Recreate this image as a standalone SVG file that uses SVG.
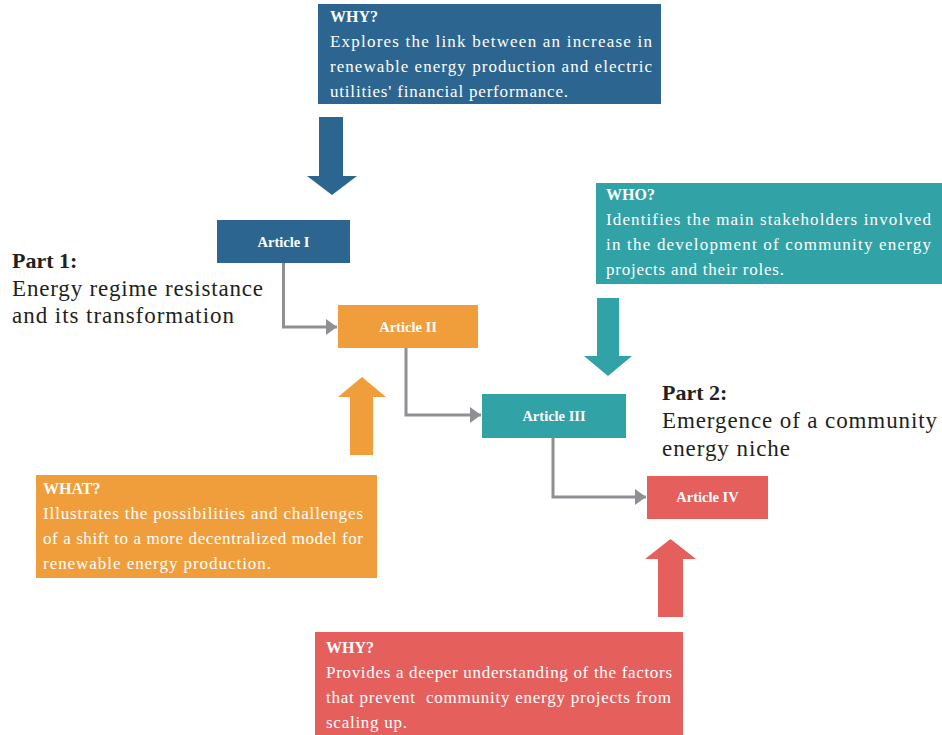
<svg xmlns="http://www.w3.org/2000/svg" width="942" height="735" viewBox="0 0 942 735">
  <defs>
    <marker id="tip" markerUnits="userSpaceOnUse" markerWidth="12" markerHeight="16" refX="11" refY="8" orient="auto">
      <path d="M0,0 L11,8 L0,16 z" fill="#8e9094"/>
    </marker>
    <style>
      .blue { fill: #2c6690; }
      .teal { fill: #31a2a5; }
      .orange { fill: #f09e3b; }
      .red { fill: #e5605d; }
      .body { font-family: "Liberation Serif", "Times New Roman", serif; font-size: 17px; fill: #ffffff; }
      .head { font-family: "Liberation Serif", "Times New Roman", serif; font-size: 16px; font-weight: bold; fill: #ffffff; }
      .art { font-family: "Liberation Serif", "Times New Roman", serif; font-size: 14.5px; font-weight: bold; fill: #ffffff; text-anchor: middle; }
      .part { font-family: "Liberation Serif", "Times New Roman", serif; font-size: 23px; fill: #231f20; }
      .partb { font-family: "Liberation Serif", "Times New Roman", serif; font-size: 22px; font-weight: bold; fill: #231f20; }
      .conn { fill: none; stroke: #8e9094; stroke-width: 3; }
    </style>
  </defs>

  <rect width="942" height="735" fill="#ffffff"/>

  <!-- question boxes -->
  <g id="why-top">
    <rect class="blue" x="318" y="4" width="343" height="100"/>
    <text class="head" x="330" y="22">WHY?</text>
    <text class="body" x="330" y="47" textLength="322">Explores the link between an increase in</text>
    <text class="body" x="330" y="72" textLength="322">renewable energy production and electric</text>
    <text class="body" x="330" y="97" textLength="238">utilities' financial performance.</text>
  </g>

  <g id="who">
    <rect class="teal" x="596" y="183" width="346" height="101"/>
    <text class="head" x="606" y="200">WHO?</text>
    <text class="body" x="606" y="225" textLength="325">Identifies the main stakeholders involved</text>
    <text class="body" x="606" y="250" textLength="325">in the development of community energy</text>
    <text class="body" x="606" y="275" textLength="178">projects and their roles.</text>
  </g>

  <g id="what">
    <rect class="orange" x="36" y="475" width="341" height="103"/>
    <text class="head" x="43" y="494">WHAT?</text>
    <text class="body" x="43" y="519" textLength="320">Illustrates the possibilities and challenges</text>
    <text class="body" x="43" y="544" textLength="320">of a shift to a more decentralized model for</text>
    <text class="body" x="43" y="569" textLength="228">renewable energy production.</text>
  </g>

  <g id="why-bottom">
    <rect class="red" x="315" y="632" width="368" height="103"/>
    <text class="head" x="326" y="653">WHY?</text>
    <text class="body" x="326" y="678" textLength="346">Provides a deeper understanding of the factors</text>
    <text class="body" x="326" y="703" textLength="345" xml:space="preserve">that prevent  community energy projects from</text>
    <text class="body" x="326" y="728" textLength="81">scaling up.</text>
  </g>

  <!-- block arrows from the question boxes -->
  <g id="block-arrows">
    <polygon class="blue" points="319,117 343,117 343,176 357,176 332,195 307,176 319,176"/>
    <polygon class="teal" points="597,298 619,298 619,356 632,356 608,376 584,356 597,356"/>
    <polygon class="orange" points="350,455 373,455 373,397 386,397 362,377 338,397 350,397"/>
    <polygon class="red" points="658,617 683,617 683,559 696,559 670.5,539 645,559 658,559"/>
  </g>

  <!-- article nodes -->
  <g id="article-1">
    <rect class="blue" x="217" y="220" width="133" height="43"/>
    <text class="art" x="283.5" y="246.5">Article I</text>
  </g>
  <g id="article-2">
    <rect class="orange" x="338" y="305" width="140" height="43"/>
    <text class="art" x="408" y="331.5">Article II</text>
  </g>
  <g id="article-3">
    <rect class="teal" x="482" y="394" width="144" height="44"/>
    <text class="art" x="554" y="421">Article III</text>
  </g>
  <g id="article-4">
    <rect class="red" x="647" y="476" width="121" height="43"/>
    <text class="art" x="707.5" y="502">Article IV</text>
  </g>

  <!-- elbow connectors between articles -->
  <g id="connectors">
    <path class="conn" d="M283.5,263 V327 H337" marker-end="url(#tip)"/>
    <path class="conn" d="M406,348 V415 H481" marker-end="url(#tip)"/>
    <path class="conn" d="M553,438 V497 H646" marker-end="url(#tip)"/>
  </g>

  <!-- part captions -->
  <g id="part-1">
    <text class="partb" x="12" y="268">Part 1:</text>
    <text class="part" x="12" y="296" textLength="251">Energy regime resistance</text>
    <text class="part" x="12" y="323" textLength="222">and its transformation</text>
  </g>
  <g id="part-2">
    <text class="partb" x="662" y="400">Part 2:</text>
    <text class="part" x="662" y="428" textLength="275">Emergence of a community</text>
    <text class="part" x="662" y="456" textLength="128">energy niche</text>
  </g>
</svg>
